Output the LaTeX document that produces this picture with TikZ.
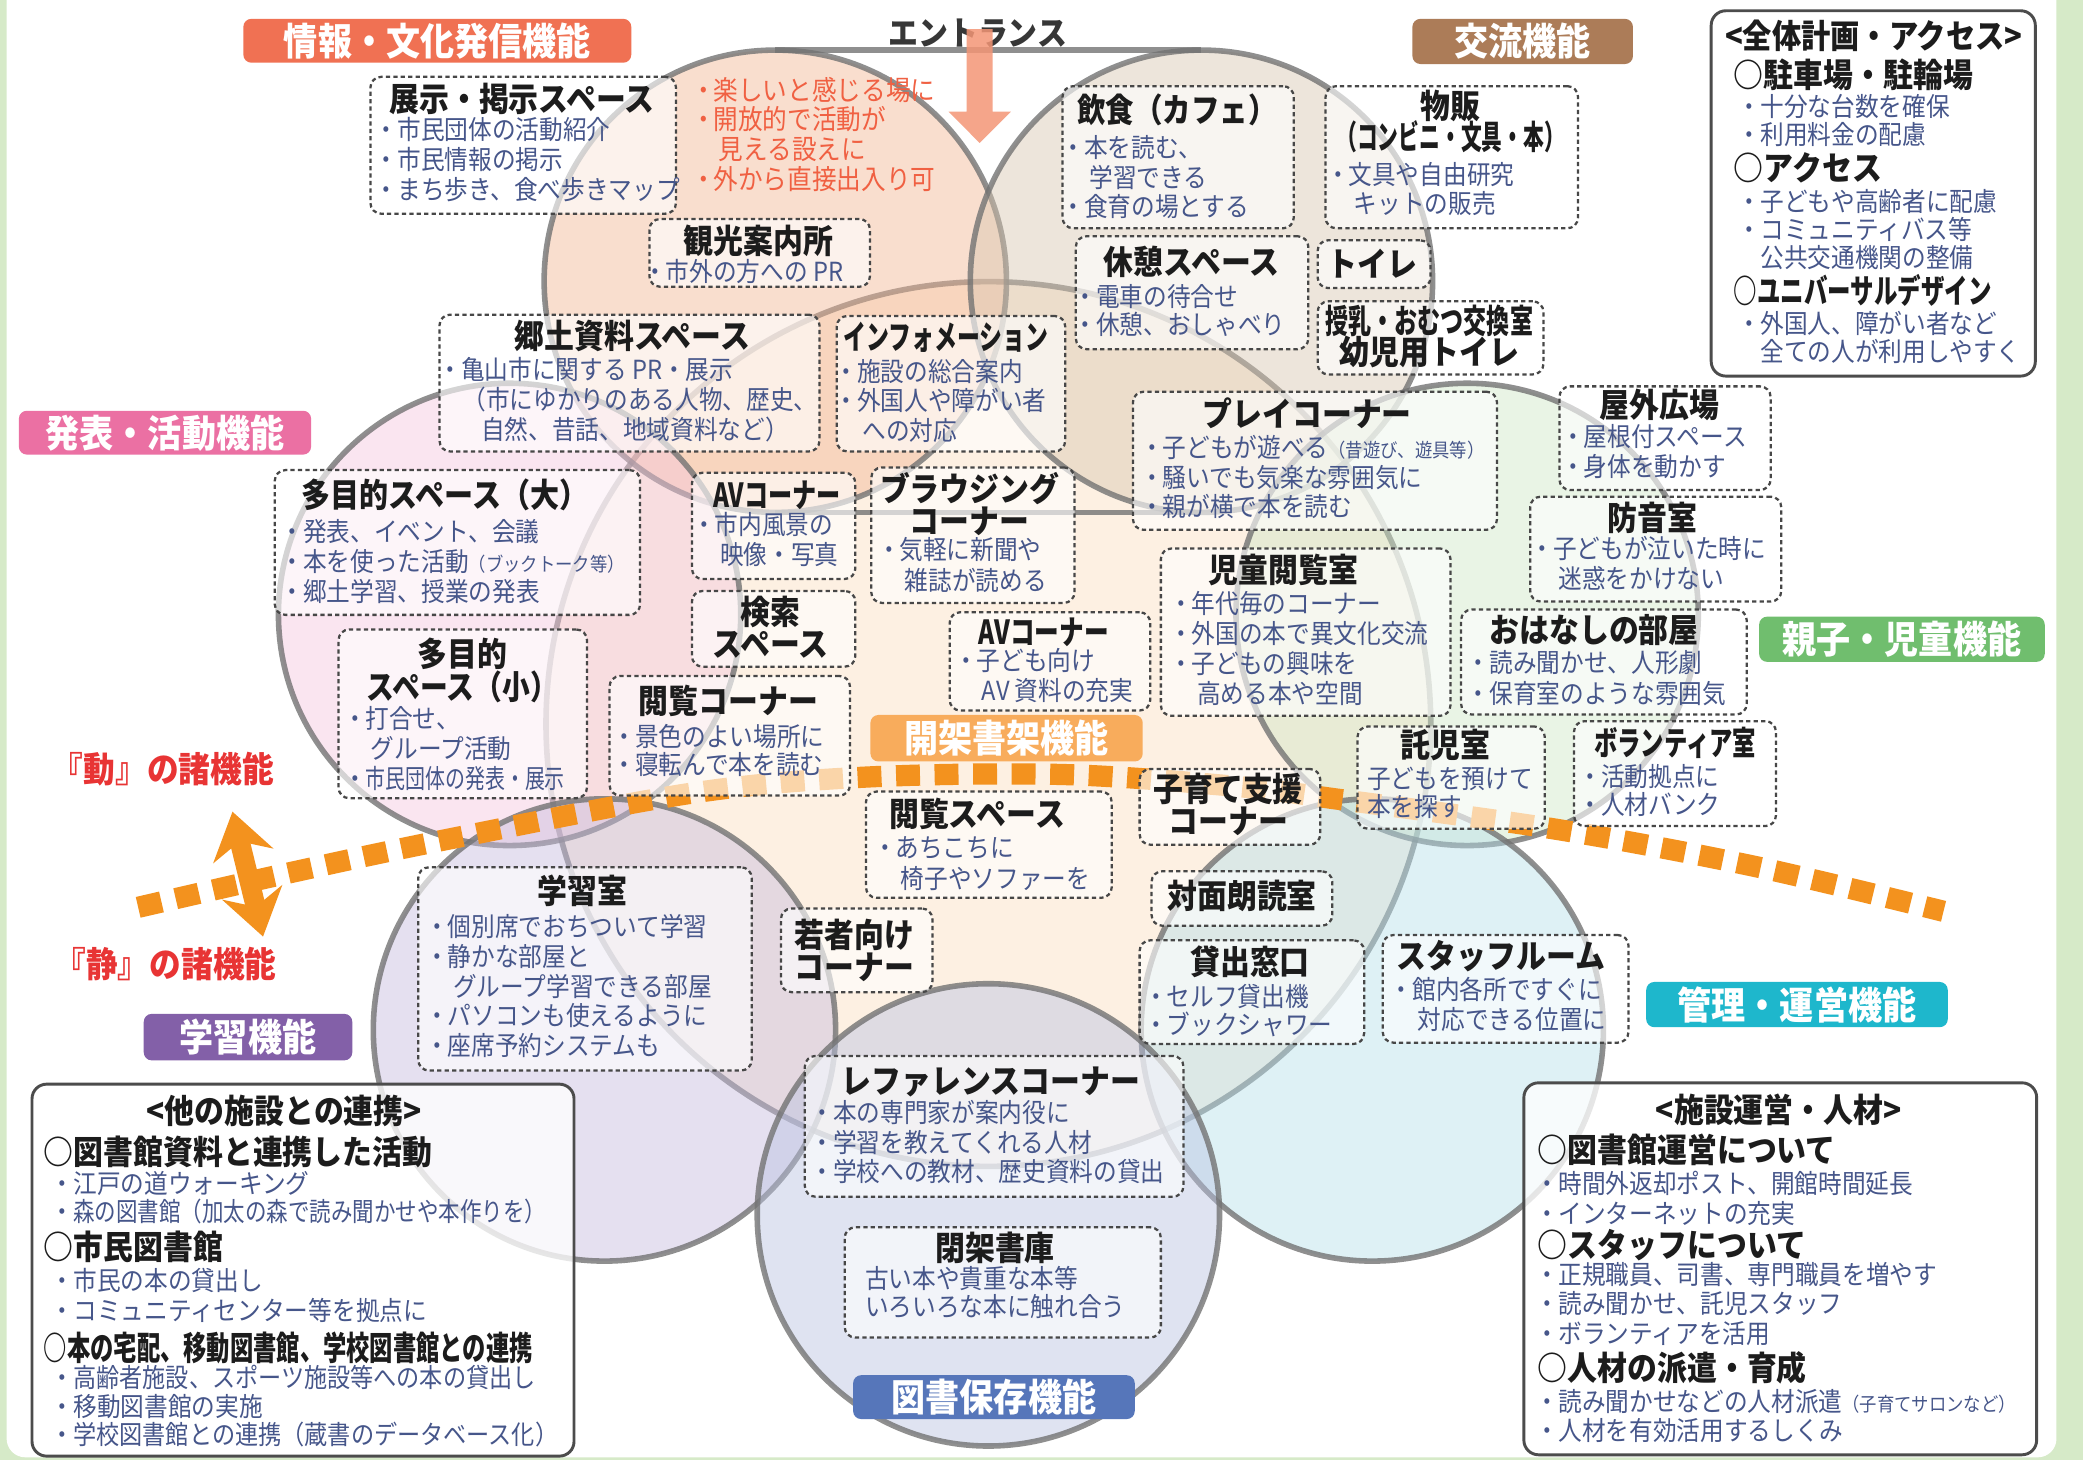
\documentclass[tikz,border=0pt]{standalone}
\usepackage{fontspec}
\usepackage{graphicx}
\setmainfont{Noto Sans CJK JP}[FakeStretch=0.9]
\usetikzlibrary{arrows.meta}
\definecolor{bg}{RGB}{214,234,200}
\definecolor{cH}{RGB}{251,222,191}
\definecolor{cA}{RGB}{242,182,148}
\definecolor{cB}{RGB}{217,199,177}
\definecolor{cC}{RGB}{244,199,222}
\definecolor{cG}{RGB}{208,231,199}
\definecolor{cD}{RGB}{199,188,222}
\definecolor{cF}{RGB}{182,224,235}
\definecolor{cE}{RGB}{186,195,226}
\definecolor{edge}{RGB}{115,115,115}
\definecolor{bodyc}{RGB}{70,86,138}
\definecolor{titlec}{RGB}{28,28,28}
\definecolor{entc}{RGB}{55,55,55}
\definecolor{redtxt}{RGB}{240,96,66}
\definecolor{redlab}{RGB}{232,52,52}
\definecolor{dashor}{RGB}{243,146,30}
\definecolor{arrsal}{RGB}{244,150,118}
\definecolor{labInfo}{RGB}{240,113,83}
\definecolor{labKoryu}{RGB}{172,124,88}
\definecolor{labHappyo}{RGB}{235,112,163}
\definecolor{labOyako}{RGB}{112,190,110}
\definecolor{labKaika}{RGB}{248,172,92}
\definecolor{labKanri}{RGB}{30,183,204}
\definecolor{labGaku}{RGB}{131,96,168}
\definecolor{labHozon}{RGB}{86,118,186}
\newcommand\ttlfont{\fontsize{25}{24}\selectfont\bfseries}
\newcommand\bdyfont{\fontsize{19.8}{22.4}\selectfont}
\newcommand\smfont{\fontsize{14.5}{15}\selectfont}
\newcommand\bu{\makebox[11pt][l]{\hspace{-6pt}・}}
\newcommand\ind{\hspace*{15pt}}
\newcommand\fitw[2]{\resizebox{#1pt}{\height}{#2}}
\newcommand\BL[6]{\foreach \lin [count=\i from 0] in {#6}{\node[bdy,#2] (#1\i) at ({#3},{#4+\i*#5}) {\lin};}}
\newcommand\TL[5]{\foreach \lin [count=\i from 0] in {#5}{\node[ttl] (#1\i) at ({#2},{#3+\i*#4}) {\lin};}}
\newcommand\DB[5]{\node[dbox, minimum width={#4-#2}, minimum height={#5-#3}] (#1) at (#2,#3) {};}
\newcommand\SB[5]{\node[sbox, minimum width={#4-#2}, minimum height={#5-#3}] (#1) at (#2,#3) {};}
\newcommand\LB[7]{\node[catbox, fill=#2, minimum width={#5-#3}, minimum height={#6-#4}] (#1) at (#3,#4) {#7};}
\tikzset{
  petal/.style={line width=4.2pt, draw=edge, draw opacity=0.8, fill opacity=0.45},
  barline/.style={line width=4.2pt, draw=edge, draw opacity=0.8},
  dbox/.style={draw=black!72, line width=1.7pt, dash pattern=on 3.2pt off 2.4pt, rounded corners=8pt, fill=white, fill opacity=0.62, inner sep=0pt, anchor=north west},
  sbox/.style={draw=black!70, line width=2.2pt, rounded corners=11pt, fill=white, fill opacity=0.78, inner sep=0pt, anchor=north west},
  catbox/.style={rounded corners=6pt, inner sep=0pt, anchor=north west, text=white, font=\fontsize{28.5}{30}\selectfont\bfseries},
  ttl/.style={font=\ttlfont, text=titlec, inner sep=0pt, anchor=base, yshift=-9.2pt},
  hdg/.style={font=\ttlfont, text=titlec, inner sep=0pt, anchor=base west, yshift=-9.2pt},
  bdy/.style={font=\bdyfont, text=bodyc, inner sep=0pt, anchor=base west, yshift=-7.3pt},
  bigred/.style={font=\fontsize{26.5}{28}\selectfont\bfseries, text=redlab, inner sep=0pt, anchor=base, yshift=-9.8pt},
  orgdash/.style={draw=dashor, line width=16pt, dash pattern=on 18pt off 11pt},
  dblarrow/.style={draw=dashor, line width=15pt, {Stealth[width=46pt,length=34pt,inset=11pt]}-{Stealth[width=46pt,length=34pt,inset=11pt]}},
}
\begin{document}
\begin{tikzpicture}[x=1pt, y=-1pt]
\useasboundingbox (0,0) rectangle (1568,1099);
\fill[bg] (0,0) rectangle (1568,1099);
\fill[white, rounded corners=14pt] (5,-30) rectangle (1548,1097);

% ---- circles ----
\path[petal, fill=cH] (744,545) circle[radius=333pt];
\path[petal, fill=cA] (583.6,211.7) circle[radius=174pt];
\path[petal, fill=cB] (904.4,211.7) circle[radius=174pt];
\coordinate (topL) at (583.6,37.7);
\coordinate (topR) at (904.4,37.7);
\coordinate (botL) at (583.6,385.7);
\coordinate (botR) at (904.4,385.7);
\draw[barline] (topL) -- (topR);
\draw[barline] (botL) -- (botR);
\path[petal, fill=cC] (383.6,462.5) circle[radius=174pt];
\path[petal, fill=cG] (1104.4,462.5) circle[radius=174pt];
\path[petal, fill=cD] (455,775.3) circle[radius=174pt];
\path[petal, fill=cF] (1033,775.3) circle[radius=174pt];
\path[petal, fill=cE] (744,914.5) circle[radius=174pt];

% ---- dynamic / static divider ----
\draw[orgdash] plot[smooth, tension=0.55] coordinates {(104,683) (218,657) (336,632) (521,597) (651,585) (799,583) (931,592) (1010,602) (1170,624) (1320,652) (1463,686)};

% ---- entrance ----
\node[ttl, text=entc] (entr) at (736,25) {エントランス};
\fill[arrsal, fill opacity=0.85] (727.6,22) -- (747.2,22) -- (747.2,84) -- (761,84) -- (737.4,107.6) -- (714,84) -- (727.6,84) -- cycle;

% ---- dashed boxes ----
\DB{tenji}{278}{57}{508}{160}
\DB{kanko}{488}{164}{654}{215}
\DB{kyodo}{330}{236}{616}{339}
\DB{infob}{629}{237}{801}{339}
\DB{inshoku}{799}{64}{973}{171}
\DB{buppan}{997}{64}{1187}{171}
\DB{kyukei}{809}{177}{984}{262}
\DB{toilet}{991}{180}{1076}{216}
\DB{junyu}{991}{226}{1161}{281}
\DB{play}{852}{294}{1126}{398}
\DB{okugai}{1173}{290}{1332}{368}
\DB{boon}{1151}{373}{1340}{452}
\DB{ohanashi}{1099}{458}{1314}{537}
\DB{jido}{873}{412}{1091}{538}
\DB{takuji}{1021}{546}{1162}{623}
\DB{volun}{1184}{542}{1336}{621}
\DB{kosodate}{857}{578}{993}{635}
\DB{etsuS}{651}{595}{836}{675}
\DB{taimen}{866}{655}{1002}{696}
\DB{wakamono}{587}{683}{701}{746}
\DB{kashi}{857}{707}{1026}{785}
\DB{staff}{1040}{703}{1225}{784}
\DB{gakushitsu}{314}{652}{565}{805}
\DB{tamokuL}{206}{353}{481}{462}
\DB{tamokuS}{254}{473}{441}{600}
\DB{avL}{520}{355}{643}{435}
\DB{browse}{655}{351}{808}{453}
\DB{kensaku}{520}{444}{643}{501}
\DB{etsuC}{458}{508}{639}{598}
\DB{avC}{714}{460}{865}{534}
\DB{refer}{605}{794}{890}{900}
\DB{heika}{635}{923}{873}{1006}

% ---- solid boxes ----
\SB{zentai}{1287}{7}{1531}{282}
\SB{tashi}{23}{815}{431}{1095}
\SB{unei}{1146}{814}{1532}{1094}

% ---- category labels ----
\LB{labA}{labInfo}{183}{14}{475}{47}{情報・文化発信機能}
\LB{labB}{labKoryu}{1063}{14}{1229}{48}{交流機能}
\LB{labC}{labHappyo}{14}{309}{234}{342}{発表・活動機能}
\LB{labG}{labOyako}{1324}{464}{1539}{498}{親子・児童機能}
\LB{labH}{labKaika}{655}{538}{860}{573}{開架書架機能}
\LB{labF}{labKanri}{1239}{739}{1466}{773}{管理・運営機能}
\LB{labD}{labGaku}{108}{763}{265}{798}{学習機能}
\LB{labE}{labHozon}{642}{1035}{854}{1068}{図書保存機能}

% ---- titles ----
\TL{tenjiT}{393}{75}{23}{展示・掲示スペース}
\TL{kankoT}{571}{182}{23}{観光案内所}
\TL{kyodoT}{476}{253.5}{23}{郷土資料スペース}
\TL{infoT}{712}{254}{23}{\fitw{154}{インフォメーション}}
\TL{inshokuT}{886}{83.3}{23}{\fitw{150}{飲食（カフェ）}}
\TL{buppanT}{1092}{80}{23.5}{物販, \fitw{172}{（コンビニ・文具・本）}}
\TL{kyukeiT}{897}{197.6}{23}{休憩スペース}
\TL{toiletT}{1033}{199}{23}{トイレ}
\TL{junyuT}{1076}{242}{23.5}{\fitw{156}{授乳・おむつ交換室}, 幼児用トイレ}
\TL{playT}{984}{311.8}{23}{プレイコーナー}
\TL{okugaiT}{1249}{305}{23}{屋外広場}
\TL{boonT}{1244}{390.2}{23}{防音室}
\TL{ohanashiT}{1200}{474.3}{23}{おはなしの部屋}
\TL{jidoT}{966}{429}{23}{児童閲覧室}
\TL{takujiT}{1088}{561}{23}{託児室}
\TL{volunT}{1261}{559.6}{23}{\fitw{122}{ボランティア室}}
\TL{kosodateT}{924.5}{594}{24}{子育て支援, コーナー}
\TL{etsuST}{735.5}{613}{23}{閲覧スペース}
\TL{taimenT}{935}{675}{23}{対面朗読室}
\TL{wakamonoT}{643}{704}{24}{若者向け, コーナー}
\TL{kashiT}{941}{724.6}{23}{貸出窓口}
\TL{staffT}{1130}{720}{23}{スタッフルーム}
\TL{gakushitsuT}{438.6}{671}{23}{学習室}
\TL{tamokuLT}{335}{372.6}{23}{\fitw{216}{多目的スペース（大）}}
\TL{tamokuST}{348}{492.5}{24.5}{多目的, \fitw{144}{スペース（小）}}
\TL{avLT}{584.8}{372.6}{23}{\fitw{96}{AVコーナー}}
\TL{browseT}{730}{368}{24.5}{ブラウジング, コーナー}
\TL{kensakuT}{580}{461}{24}{検索, スペース}
\TL{etsuCT}{548.5}{528.2}{23}{閲覧コーナー}
\TL{avCT}{785.7}{475.8}{23}{\fitw{98}{AVコーナー}}
\TL{referT}{746}{814}{23}{レファレンスコーナー}
\TL{heikaT}{749}{940}{23}{閉架書庫}

% ---- body texts ----
\BL{tenjiB}{}{288}{98}{22.5}{\bu 市民団体の活動紹介, \bu 市民情報の掲示, \bu まち歩き、食べ歩きマップ}
\BL{redB}{text=redtxt, font=\fontsize{20.6}{22}\selectfont}{526}{68}{22.5}{\bu 楽しいと感じる場に, \bu 開放的で活動が, \ind 見える設えに, \bu 外から直接出入り可}
\BL{kankoB}{}{490}{204.5}{22.4}{\bu 市外の方への PR}
\BL{kyodoB}{}{336}{278.5}{22.6}{\bu 亀山市に関する PR・展示, \hspace*{12pt}（市にゆかりのある人物、歴史、, \hspace*{26pt}自然、昔話、地域資料など）}
\BL{infoB}{}{634}{279.6}{22.2}{\bu 施設の総合案内, \bu 外国人や障がい者, \ind への対応}
\BL{inshokuB}{}{805}{111.6}{22.2}{\bu 本を読む、, \ind 学習できる, \bu 食育の場とする}
\BL{buppanB}{}{1004}{131.7}{21.6}{\bu 文具や自由研究, \ind キットの販売}
\BL{kyukeiB}{}{814}{223.2}{21.5}{\bu 電車の待合せ, \bu 休憩、おしゃべり}
\BL{playB}{}{864}{337.4}{22.2}{\bu 子どもが遊べる{\smfont（昔遊び、遊具等）}, \bu 騒いでも気楽な雰囲気に, \bu 親が横で本を読む}
\BL{okugaiB}{}{1181}{328.7}{22.6}{\bu 屋根付スペース, \bu 身体を動かす}
\BL{boonB}{}{1158}{412.8}{22.6}{\bu 子どもが泣いた時に, \ind 迷惑をかけない}
\BL{ohanashiB}{}{1110}{499.3}{22.7}{\bu 読み聞かせ、人形劇, \bu 保育室のような雰囲気}
\BL{jidoB}{}{886}{454.2}{22.6}{\bu 年代毎のコーナー, \bu 外国の本で異文化交流, \bu 子どもの興味を, \ind 高める本や空間}
\BL{takujiB}{}{1029}{585.9}{21.4}{子どもを預けて, 本を探す}
\BL{volunB}{}{1194}{584.7}{21.3}{\bu 活動拠点に, \bu 人材バンク}
\BL{etsuSB}{}{663}{638.5}{22.9}{\bu あちこちに, \ind 椅子やソファーを}
\BL{kashiB}{}{867}{750}{21.6}{\bu セルフ貸出機, \bu ブックシャワー}
\BL{staffB}{}{1052}{745.4}{22.3}{\bu 館内各所ですぐに, \ind 対応できる位置に}
\BL{gakushitsuB}{}{326}{697.9}{22.3}{\bu 個別席でおちついて学習, \bu 静かな部屋と, \ind グループ学習できる部屋, \bu パソコンも使えるように, \bu 座席予約システムも}
\BL{tamokuLB}{}{217}{400.2}{22.6}{\bu 発表、イベント、会議, \bu 本を使った活動{\smfont（ブックトーク等）}, \bu 郷土学習、授業の発表}
\BL{tamokuSB}{}{264}{540.8}{22.6}{\bu 打合せ、, \ind グループ活動, \bu \fitw{150}{市民団体の発表・展示}}
\BL{avLB}{}{527}{395.2}{22.6}{\bu 市内風景の, \ind 映像・写真}
\BL{browseB}{}{666}{414}{23}{\bu 気軽に新聞や, \ind 雑誌が読める}
\BL{etsuCB}{}{467}{554.6}{21.3}{\bu 景色のよい場所に, \bu 寝転んで本を読む}
\BL{avCB}{}{724}{497.4}{22.8}{\bu 子ども向け, \ind AV 資料の充実}
\BL{referB}{}{616}{838}{22}{\bu 本の専門家が案内役に, \bu 学習を教えてくれる人材, \bu 学校への教材、歴史資料の貸出}
\BL{heikaB}{}{651}{962.3}{21.3}{古い本や貴重な本等, いろいろな本に触れ合う}

% ---- info box: overall plan ----
\TL{zentaiT}{1410.5}{27.6}{23}{\fitw{224}{<全体計画・アクセス>}}
\node[hdg] (zh1) at (1305,56.5) {○駐車場・駐輪場};
\BL{zb1}{}{1314}{80.3}{21.3}{\bu 十分な台数を確保, \bu 利用料金の配慮}
\node[hdg] (zh2) at (1305,126.7) {○アクセス};
\BL{zb2}{}{1314}{151.8}{21.3}{\bu 子どもや高齢者に配慮, \bu コミュニティバス等, \hspace*{11pt}公共交通機関の整備}
\node[hdg] (zh3) at (1305,219.6) {\fitw{194}{○ユニバーサルデザイン}};
\BL{zb3}{}{1314}{243.4}{21.3}{\bu 外国人、障がい者など, \hspace*{11pt}全ての人が利用しやすく}

% ---- info box: other facilities ----
\TL{tashiT}{214}{836.3}{23}{<他の施設との連携>}
\node[hdg] (th1) at (32.8,867.5) {○図書館資料と連携した活動};
\BL{tb1}{}{44}{891.3}{21}{\bu 江戸の道ウォーキング, \bu \fitw{356}{森の図書館（加太の森で読み聞かせや本作りを）}}
\node[hdg] (th2) at (32.8,939) {○市民図書館};
\BL{tb2}{}{44}{964.3}{22.3}{\bu 市民の本の貸出し, \bu コミュニティセンター等を拠点に}
\node[hdg] (th3) at (32.8,1014.8) {\fitw{368}{○本の宅配、移動図書館、学校図書館との連携}};
\BL{tb3}{}{44}{1037.2}{21.5}{\bu \fitw{348}{高齢者施設、スポーツ施設等への本の貸出し}, \bu 移動図書館の実施, \bu \fitw{365}{学校図書館との連携（蔵書のデータベース化）}}

% ---- info box: operation ----
\TL{uneiT}{1339}{836}{23}{<施設運営・人材>}
\node[hdg] (uh1) at (1157.4,866) {○図書館運営について};
\BL{ub1}{}{1162}{891.2}{22.3}{\bu 時間外返却ポスト、開館時間延長, \bu インターネットの充実}
\node[hdg] (uh2) at (1157.4,937.3) {○スタッフについて};
\BL{ub2}{}{1162}{959.6}{22.1}{\bu 正規職員、司書、専門職員を増やす, \bu 読み聞かせ、託児スタッフ, \bu ボランティアを活用}
\node[hdg] (uh3) at (1157.4,1029.6) {○人材の派遣・育成};
\BL{ub3}{}{1162}{1054.9}{22.3}{\bu 読み聞かせなどの人材派遣{\smfont（子育てサロンなど）}, \bu 人材を有効活用するしくみ}

% ---- dynamic / static ----
\node[bigred] (dou) at (122.6,579.6) {『動』の諸機能};
\node[bigred] (sei) at (124.6,726) {『静』の諸機能};
\coordinate (dtop) at (175,611);
\coordinate (dbot) at (198,705);
\draw[dblarrow] (dtop) -- (dbot);
\end{tikzpicture}
\end{document}
